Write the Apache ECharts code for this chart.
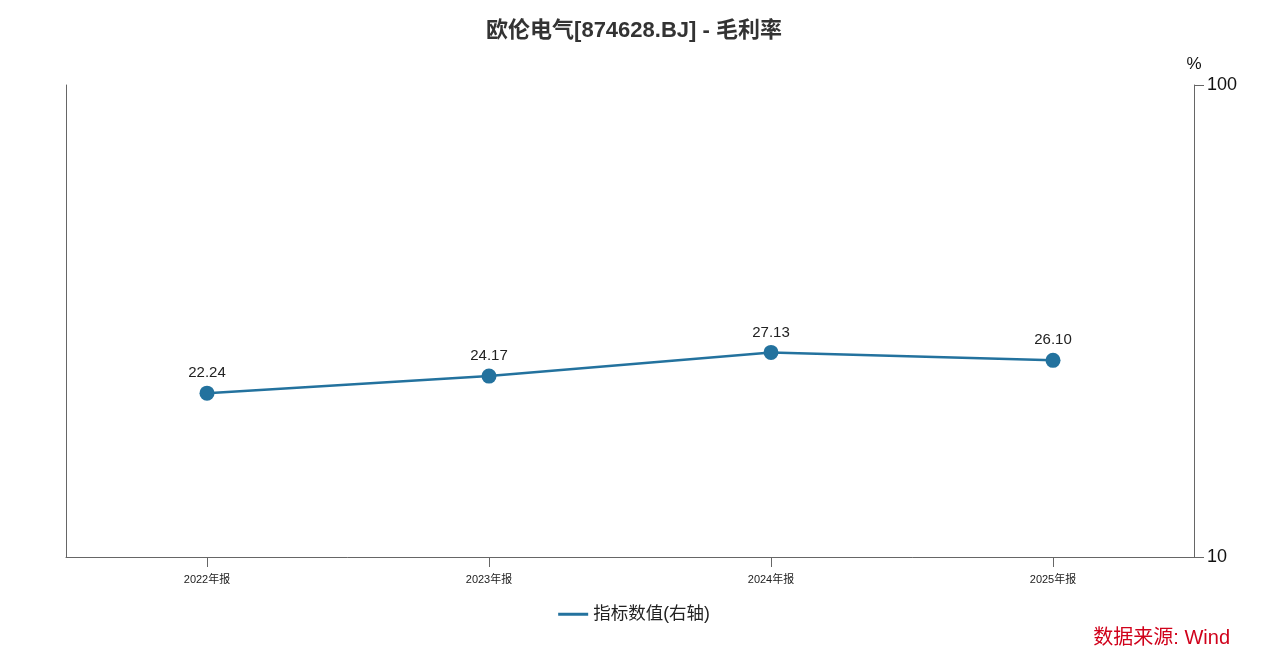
<!DOCTYPE html>
<html>
<head>
<meta charset="utf-8">
<script src="https://cdn.jsdelivr.net/npm/echarts@6/dist/echarts.min.js"></script>
<style>
html,body{margin:0;padding:0;background:#fff;}
#main{width:1268px;height:662px;}
</style>
</head>
<body>
<div id="main"></div>
<script>
const titleText = '欧伦电气[874628.BJ] - 毛利率';
const categories = ['2022年报', '2023年报', '2024年报', '2025年报'];
const seriesName = '指标数值(右轴)';
const values = [22.24, 24.17, 27.13, 26.10];
const sourceText = '数据来源: Wind';

const chart = echarts.init(document.getElementById('main'), null, {renderer: 'canvas'});
const font = '"Helvetica Neue", Arial, "Liberation Sans", "Noto Sans CJK SC", sans-serif';
chart.setOption({
  backgroundColor: '#fff',
  animation: false,
  textStyle: {fontFamily: font},
  title: {
    text: titleText,
    left: 'center',
    top: 15,
    textStyle: {fontSize: 22, fontWeight: 'bold', color: '#333', fontFamily: font}
  },
  graphic: [{
    type: 'text',
    right: 38,
    top: 628,
    style: {text: sourceText, fill: '#d0021b', fontSize: 20, fontFamily: font}
  }],
  legend: {
    bottom: 34,
    left: 'center',
    itemWidth: 30,
    itemHeight: 10,
    itemGap: 8,
    textStyle: {fontSize: 17.5, color: '#222', fontFamily: font},
    data: [{name: seriesName, icon: 'path://M0,3.5 L30,3.5 L30,6.5 L0,6.5 Z'}]
  },
  grid: {left: 66, right: 74, top: 85, bottom: 105, containLabel: false},
  xAxis: {
    type: 'category',
    data: categories,
    boundaryGap: true,
    axisLine: {lineStyle: {color: '#666', width: 1}},
    axisTick: {show: true, alignWithLabel: true, length: 10, lineStyle: {color: '#666'}, interval: 0},
    axisLabel: {fontSize: 11, color: '#222', margin: 17, fontFamily: font}
  },
  yAxis: [{
    type: 'log',
    logBase: 10,
    position: 'right',
    min: 10,
    max: 100,
    name: '%',
    nameLocation: 'end',
    nameGap: 12,
    nameTextStyle: {fontSize: 17, color: '#111', align: 'center'},
    axisLine: {show: true, lineStyle: {color: '#666', width: 1}},
    axisTick: {show: true, length: 10, inside: false, lineStyle: {color: '#666'}},
    axisLabel: {fontSize: 18, color: '#111', margin: 13, fontFamily: font},
    splitLine: {show: false}
  }, {
    type: 'value',
    position: 'left',
    min: 0,
    max: 1,
    axisLine: {show: true, lineStyle: {color: '#666', width: 1}},
    axisTick: {show: false},
    axisLabel: {show: false},
    splitLine: {show: false}
  }],
  series: [{
    name: seriesName,
    type: 'line',
    yAxisIndex: 0,
    data: values,
    symbol: 'circle',
    symbolSize: 15,
    itemStyle: {color: '#23729e'},
    lineStyle: {color: '#23729e', width: 2.5},
    label: {
      show: true,
      position: 'top',
      distance: 5,
      fontSize: 15,
      color: '#222',
      fontFamily: font,
      formatter: p => p.value.toFixed(2)
    }
  }]
});
</script>
</body>
</html>
